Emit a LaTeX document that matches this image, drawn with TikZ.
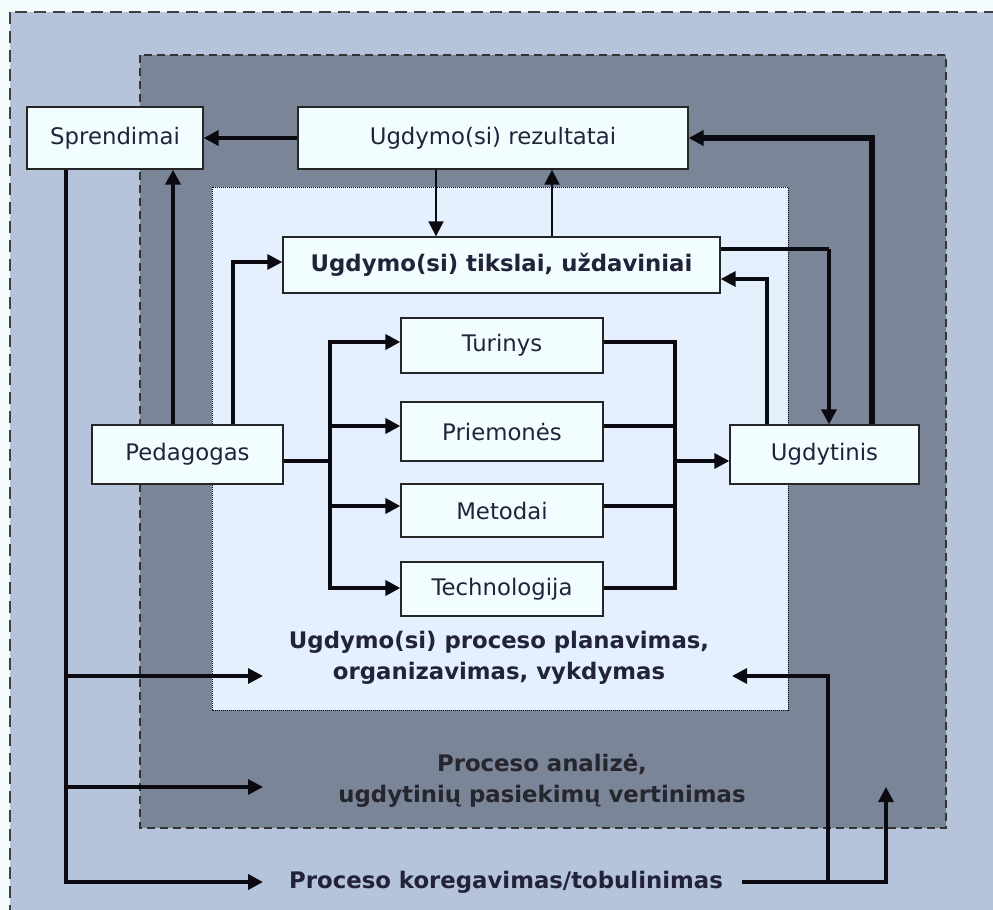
\documentclass[tikz,border=0pt]{standalone}
\usepackage{fontspec}
\setmainfont{DejaVu Sans}
\usetikzlibrary{arrows.meta}
\definecolor{bgout}{HTML}{F4FCFE}
\definecolor{outerfill}{HTML}{B5C4DB}
\definecolor{midfill}{HTML}{7A8597}
\definecolor{innerfill}{HTML}{E4F0FD}
\definecolor{boxfill}{HTML}{F2FDFF}
\definecolor{txt}{HTML}{22223A}
\definecolor{txtdark}{HTML}{26262E}
\definecolor{edge}{HTML}{0A0A10}
\begin{document}
\begin{tikzpicture}[x=1pt,y=-1pt,
  box/.style={draw=black!85, line width=1.3pt, fill=boxfill, inner sep=0pt, text=txt,
    font=\fontsize{22.8}{27}\selectfont},
  lbl/.style={text=txt, font=\fontsize{22.8}{31.5}\selectfont\bfseries, align=center, inner sep=0pt},
  tip/.style={-{Triangle[length=15pt,width=15pt]}},
  both/.style={{Triangle[length=15pt,width=15pt]}-{Triangle[length=15pt,width=15pt]}},
  wt/.style={draw=edge, line width=1.8pt},
  wm/.style={draw=edge, line width=3.2pt},
  wT/.style={draw=edge, line width=4.5pt},
  wX/.style={draw=edge, line width=5.5pt}]
\clip (0,0) rectangle (993,910);
\fill[bgout] (0,0) rectangle (993,910);
% regions
\draw[fill=outerfill, draw=black!75, line width=1.3pt, dash pattern=on 12pt off 7pt] (10,12) rectangle (1010,930);
\draw[fill=midfill, draw=black!80, line width=1.2pt, dash pattern=on 8pt off 5pt] (140,55) rectangle (946,828);
\draw[fill=innerfill, draw=black, line width=1pt, densely dotted] (212,187) rectangle (788,710);
% helper coordinates
\coordinate (xa) at (436,0);
\coordinate (xb) at (552,0);
\coordinate (xc) at (872,0);
\coordinate (xe) at (767,0);
\coordinate (xf) at (173,0);
\coordinate (xg) at (233,0);
\coordinate (xh) at (66,0);
\coordinate (ya) at (0,249);
\coordinate (yb) at (0,279);
\coordinate (yc) at (0,262);
\coordinate (yd) at (0,461);
\coordinate (yp) at (0,426);
\coordinate (ym) at (0,506);
\coordinate (k1) at (829,249);
\coordinate (tl1) at (330,342);
\coordinate (tl4) at (330,588);
\coordinate (tr1) at (675,342);
\coordinate (tr4) at (675,588);
\coordinate (lb) at (66,882);
\coordinate (tipK) at (263,882);
\coordinate (tipP) at (263,676);
\coordinate (tipA) at (263,787);
\coordinate (kc) at (828,882);
\coordinate (ke) at (886,882);
\coordinate (tipR) at (886,787);
\coordinate (tipL) at (732,676);
% texts
\node[lbl] (plan) at (499,658) {Ugdymo(si) proceso planavimas,\\organizavimas, vykdymas};
\node[lbl, text=txtdark] (anal) at (542,781) {Proceso analizė,\\ugdytinių pasiekimų vertinimas};
\node[lbl] (kor) at (506,882) {Proceso koregavimas/tobulinimas};
% connectors
\path (kor.east) ++(19,0) coordinate (kr);
\draw[wT, tip] (xh |- 0,169) -- (lb) -- (tipK);
\draw[wm, tip] (xh |- tipP) -- (tipP);
\draw[wm, tip] (xh |- tipA) -- (tipA);
\draw[wm, tip] (kr) -- (ke) -- (tipR);
\draw[wm, tip] (kc) |- (tipL);
% boxes
\node[box, minimum width=176pt, minimum height=62pt] (spr) at (115,138) {Sprendimai};
\node[box, minimum width=390pt, minimum height=62pt] (rez) at (493,138) {Ugdymo(si) rezultatai};
\node[box, minimum width=437pt, minimum height=56pt, font=\fontsize{22.8}{27}\selectfont\bfseries] (tik) at (501.5,265) {Ugdymo(si) tikslai, uždaviniai};
\node[box, minimum width=202pt, minimum height=55pt] (tur) at (502,345.5) {Turinys};
\node[box, minimum width=202pt, minimum height=59pt] (pri) at (502,431.5) {Priemonės};
\node[box, minimum width=202pt, minimum height=53pt] (met) at (502,510.5) {Metodai};
\node[box, minimum width=202pt, minimum height=54pt] (tec) at (502,589) {Technologija};
\node[box, minimum width=191pt, minimum height=59pt] (ped) at (187.5,454.5) {Pedagogas};
\node[box, minimum width=189pt, minimum height=59pt] (ugd) at (824.5,454.5) {Ugdytinis};
% connectors between boxes
\draw[wT, tip] (rez.west) -- (spr.east);
\draw[wt, tip] (rez.south -| xa) -- (tik.north -| xa);
\draw[wt, tip] (tik.north -| xb) -- (rez.south -| xb);
\draw[wX, tip] (ugd.north -| xc) |- (rez.east);
\draw[wT] (tik.east |- ya) -- (k1);
\draw[wm, tip] (k1) -- (ugd.north -| k1);
\draw[wm, tip] (ugd.north -| xe) |- (tik.east |- yb);
\draw[wT, tip] (ped.north -| xf) -- (spr.south -| xf);
\draw[wm, tip] (ped.north -| xg) |- (tik.west |- yc);
\draw[wT] (ped.east |- yd) -- (tl1 |- yd);
\draw[wT, both] (tur.west |- tl1) -- (tl1) -- (tl4) -- (tec.west |- tl4);
\draw[wT, tip] (tl1 |- yp) -- (pri.west |- yp);
\draw[wT, tip] (tl1 |- ym) -- (met.west |- ym);
\draw[wT] (tur.east |- tr1) -- (tr1) -- (tr4) -- (tec.east |- tr4);
\draw[wT] (pri.east |- yp) -- (tr1 |- yp);
\draw[wT] (met.east |- ym) -- (tr1 |- ym);
\draw[wm, tip] (tr1 |- yd) -- (ugd.west |- yd);
\end{tikzpicture}
\end{document}
